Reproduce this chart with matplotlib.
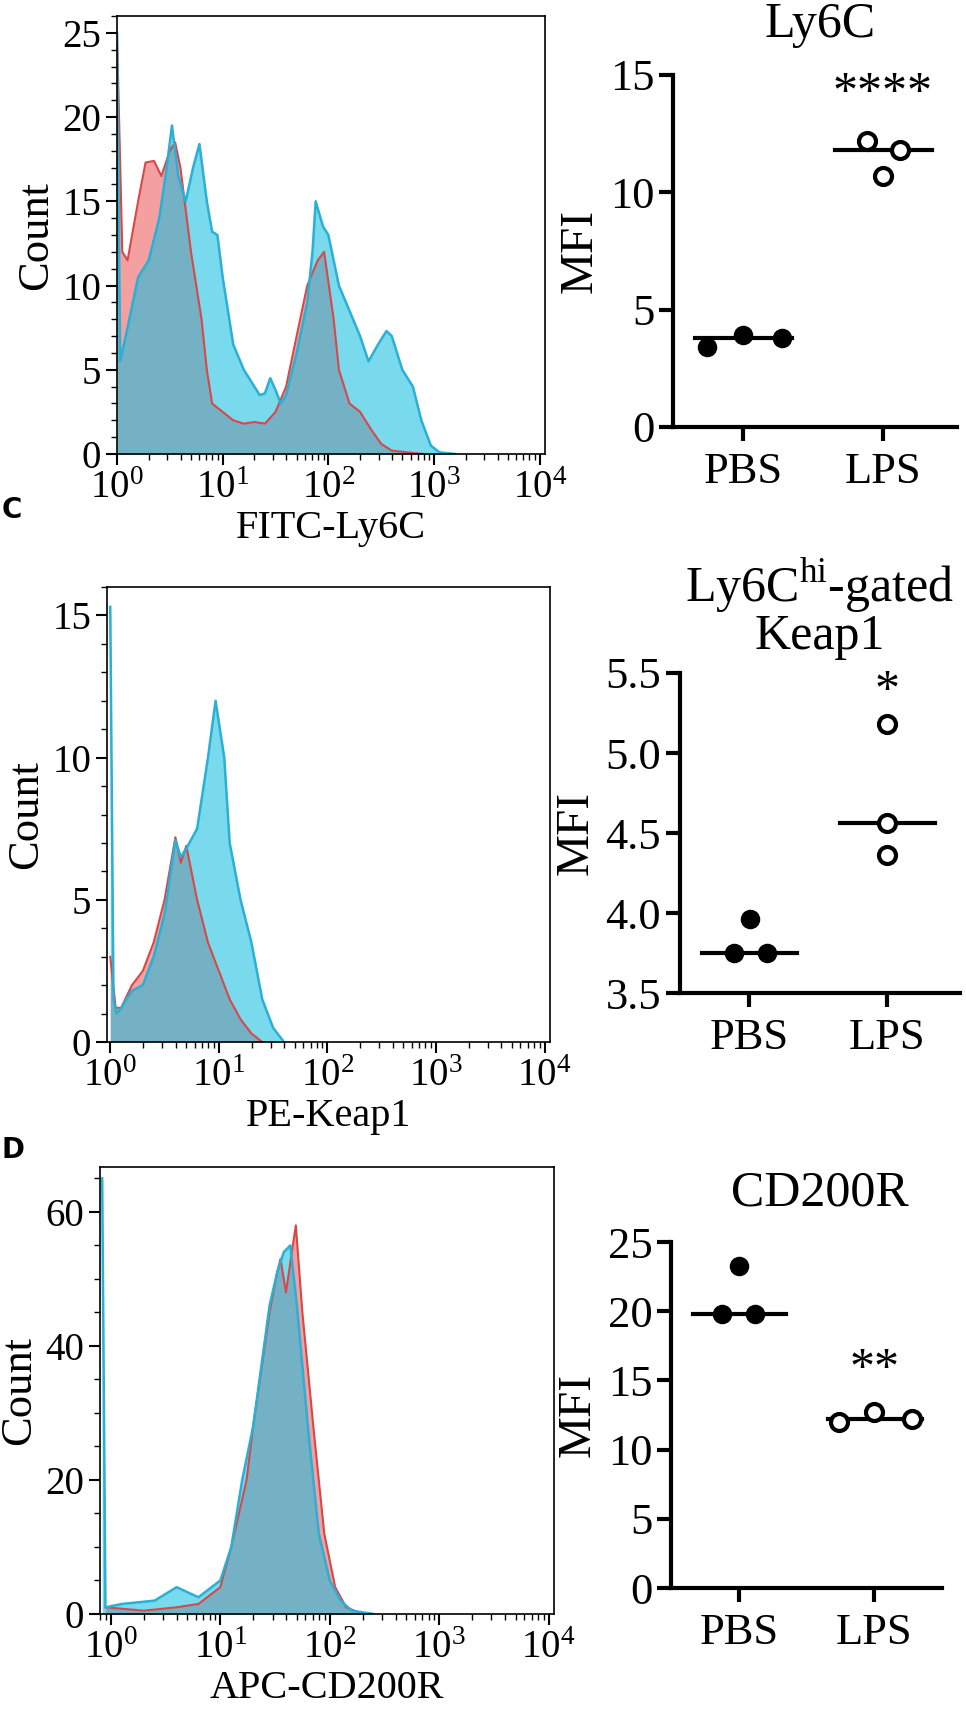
import numpy as np
import matplotlib.pyplot as plt
from matplotlib.ticker import LogLocator, NullFormatter, MultipleLocator

plt.rcParams['font.family'] = ['Liberation Serif', 'DejaVu Serif']

W, H = 966, 1712

# histogram data (log10 intensity, count)
h1_blue_x = [0.0, 0.03, 0.1, 0.2, 0.3, 0.4, 0.47, 0.52, 0.58, 0.65, 0.72, 0.78, 0.85, 0.9, 0.95, 1.0, 1.1, 1.2, 1.3,
             1.35, 1.4, 1.45, 1.5, 1.55, 1.6, 1.7, 1.8, 1.85, 1.88, 1.95, 2.0, 2.1, 2.2, 2.3, 2.38, 2.47, 2.55, 2.6,
             2.7, 2.8, 2.88, 2.97, 3.05, 3.2]
h1_blue_y = [25, 5.5, 7.5, 10.5, 11.5, 14, 17, 19.5, 16.5, 15, 17, 18.4, 15, 13.2, 13, 10.5, 6.5, 5, 4, 3.5, 3.6,
             4.5, 3.8, 3.0, 3.5, 6, 9, 12, 15, 13.5, 13, 10, 8.5, 7, 5.5, 6.5, 7.3, 7, 5, 4, 2, 0.5, 0.1, 0]
h1_red_x = [0.0, 0.05, 0.1, 0.2, 0.27, 0.35, 0.42, 0.5, 0.55, 0.6, 0.7, 0.8, 0.85, 0.9, 1.0, 1.1, 1.2, 1.3, 1.4,
            1.5, 1.6, 1.7, 1.8, 1.9, 1.96, 2.05, 2.1, 2.2, 2.3, 2.4, 2.5, 2.6, 2.75, 2.9]
h1_red_y = [25, 12, 11.5, 15, 17.3, 17.4, 16.5, 18, 18.5, 17, 12, 8, 5, 3, 2.5, 2, 1.8, 1.9, 1.8, 2.5, 4, 7, 10,
            11.5, 12, 8, 5, 3, 2.5, 1.5, 0.6, 0.2, 0.1, 0]

h2_blue_x = [0.0, 0.03, 0.06, 0.1, 0.2, 0.3, 0.4, 0.5, 0.6, 0.65, 0.7, 0.8, 0.9, 0.97, 1.05, 1.1, 1.2, 1.3, 1.4,
             1.5, 1.6]
h2_blue_y = [15.3, 1.5, 1.0, 1.2, 1.8, 2.0, 3.0, 4.5, 7.1, 6.5, 6.8, 7.5, 10, 12, 10, 7, 5, 3.5, 1.5, 0.5, 0]
h2_red_x = [0.0, 0.05, 0.1, 0.2, 0.3, 0.4, 0.5, 0.6, 0.65, 0.7, 0.8, 0.9, 1.0, 1.1, 1.2, 1.3, 1.4]
h2_red_y = [3, 1.2, 1.2, 2.0, 2.5, 3.5, 5, 7.2, 6.3, 6.9, 5, 3.5, 2.5, 1.5, 0.8, 0.3, 0]

h3_blue_x = [-0.08, -0.05, 0.1, 0.4, 0.6, 0.8, 1.0, 1.1, 1.2, 1.3, 1.45, 1.52, 1.58, 1.64, 1.7, 1.8, 1.9, 2.0,
             2.1, 2.2, 2.4]
h3_blue_y = [65, 1, 1.5, 2, 4, 2.5, 5, 10, 20, 28, 46, 51, 54, 55, 46, 28, 12, 5, 2, 0.5, 0]
h3_red_x = [-0.05, 0.3, 0.6, 0.8, 1.0, 1.1, 1.24, 1.3, 1.45, 1.52, 1.55, 1.6, 1.69, 1.75, 1.85, 1.95, 2.05, 2.15,
            2.3]
h3_red_y = [1, 0.5, 1, 1.5, 4, 10, 20, 28, 45, 51, 53, 48, 58, 45, 28, 12, 4, 1, 0]

# MFI dot plots
groups = ['PBS', 'LPS']
ly6c_pbs = [3.4, 3.9, 3.8]
ly6c_lps = [12.2, 10.7, 11.8]
keap1_pbs = [3.75, 3.96, 3.75]
keap1_lps = [5.18, 4.56, 4.36]
cd200r_pbs = [19.8, 23.3, 19.8]
cd200r_lps = [12.0, 12.7, 12.2]

hist_rows = [
    dict(box=(117, 16, 545, 454), ylim=26, yticks=[0, 5, 10, 15, 20, 25], minor=1, xlo=0.0,
         blue=(h1_blue_x, h1_blue_y), red=(h1_red_x, h1_red_y), xlabel='FITC-Ly6C'),
    dict(box=(107, 587, 550, 1042), ylim=16, yticks=[0, 5, 10, 15], minor=1, xlo=-0.03,
         blue=(h2_blue_x, h2_blue_y), red=(h2_red_x, h2_red_y), xlabel='PE-Keap1'),
    dict(box=(100, 1167, 554, 1614), ylim=66.7, yticks=[0, 20, 40, 60], minor=5, xlo=-0.1,
         blue=(h3_blue_x, h3_blue_y), red=(h3_red_x, h3_red_y), xlabel='APC-CD200R'),
]

dot_rows = [
    dict(box=(673, 75, 957, 427), ylim=(0, 15), yticks=[0, 5, 10, 15], fmt='%d',
         pbs=ly6c_pbs, lps=ly6c_lps, pj=[-0.26, 0.0, 0.28], lj=[-0.11, 0.0, 0.12],
         pm=3.8, lm=11.8, star='****', sy=14.2, title='Ly6C', ty=2, xl=(-0.5, 1.53)),
    dict(box=(680, 673, 960, 993), ylim=(3.5, 5.5), yticks=[3.5, 4.0, 4.5, 5.0, 5.5], fmt='%.1f',
         pbs=keap1_pbs, lps=keap1_lps, pj=[-0.11, 0.01, 0.13], lj=[0.0, 0.0, 0.0],
         pm=3.75, lm=4.56, star='*', sy=5.38, title='Ly6C$^{\\mathregular{hi}}$-gated\nKeap1', ty=556,
         xl=(-0.5, 1.53)),
    dict(box=(671, 1242, 942, 1588), ylim=(0, 25), yticks=[0, 5, 10, 15, 20, 25], fmt='%d',
         pbs=cd200r_pbs, lps=cd200r_lps, pj=[-0.12, 0.0, 0.12], lj=[-0.26, 0.0, 0.28],
         pm=19.8, lm=12.2, star='**', sy=15.8, title='CD200R', ty=1170, xl=(-0.5, 1.5)),
]

fig = plt.figure(figsize=(W / 100, H / 100), dpi=100)


def add_ax(box):
    l, t, r, b = box
    return fig.add_axes([l / W, 1 - b / H, (r - l) / W, (b - t) / H])


for row in hist_rows:
    ax = add_ax(row['box'])
    rx, ry = row['red']
    bx, by = row['blue']
    rx = 10 ** np.array(rx)
    bx = 10 ** np.array(bx)
    ax.fill_between(rx, 0, ry, color='#f07878', alpha=0.7, lw=0)
    ax.plot(rx, ry, color='#d84848', lw=1.5)
    ax.fill_between(bx, 0, by, color='#18bee0', alpha=0.58, lw=0)
    ax.plot(bx, by, color='#2ab0d4', lw=1.8)
    ax.set_xscale('log')
    ax.set_xlim(10 ** row['xlo'], 10 ** 4.05)
    ax.set_ylim(0, row['ylim'])
    ax.set_xticks([1, 10, 100, 1000, 10000])
    ax.set_xticklabels(['$\\mathregular{10^{%d}}$' % i for i in range(5)])
    ax.xaxis.set_minor_locator(LogLocator(base=10, subs=np.arange(2, 10), numticks=20))
    ax.xaxis.set_minor_formatter(NullFormatter())
    ax.set_yticks(row['yticks'])
    ax.yaxis.set_minor_locator(MultipleLocator(row['minor']))
    ax.tick_params(axis='both', which='major', labelsize=28, length=8, width=1.5, direction='out')
    ax.tick_params(axis='both', which='minor', length=4, width=1)
    for s in ax.spines.values():
        s.set_linewidth(1.2)
    ax.set_xlabel(row['xlabel'], fontsize=29, labelpad=2)
    ax.set_ylabel('Count', fontsize=32, labelpad=4)

for row in dot_rows:
    ax = add_ax(row['box'])
    ax.scatter(np.array(row['pj']), row['pbs'], s=170, color='black', zorder=3)
    ax.scatter(1 + np.array(row['lj']), row['lps'], s=150, facecolor='white', edgecolor='black',
               linewidth=3, zorder=3)
    ax.plot([-0.34, 0.35], [row['pm']] * 2, color='black', lw=3)
    ax.plot([1 - 0.34, 1 + 0.35], [row['lm']] * 2, color='black', lw=3)
    ax.text(1, row['sy'], row['star'], ha='center', va='center', fontsize=36)
    ax.set_xlim(*row['xl'])
    ax.set_ylim(*row['ylim'])
    ax.set_xticks([0, 1])
    ax.set_xticklabels(groups)
    ax.set_yticks(row['yticks'])
    ax.set_yticklabels([row['fmt'] % v for v in row['yticks']])
    ax.spines['top'].set_visible(False)
    ax.spines['right'].set_visible(False)
    ax.spines['left'].set_linewidth(3)
    ax.spines['bottom'].set_linewidth(3)
    ax.tick_params(axis='both', labelsize=32, length=10, width=3)
    ax.tick_params(axis='x', pad=8)
    ax.set_ylabel('MFI', fontsize=34, labelpad=6)
    fig.text(820 / W, 1 - row['ty'] / H, row['title'], ha='center', va='top', fontsize=36,
             linespacing=0.95)

fig.text(2 / W, 1 - 510 / H, 'C', fontsize=20, fontweight='bold', family='DejaVu Sans', va='center')
fig.text(2 / W, 1 - 1150 / H, 'D', fontsize=20, fontweight='bold', family='DejaVu Sans', va='center')

fig.savefig('out.png', dpi=100)
